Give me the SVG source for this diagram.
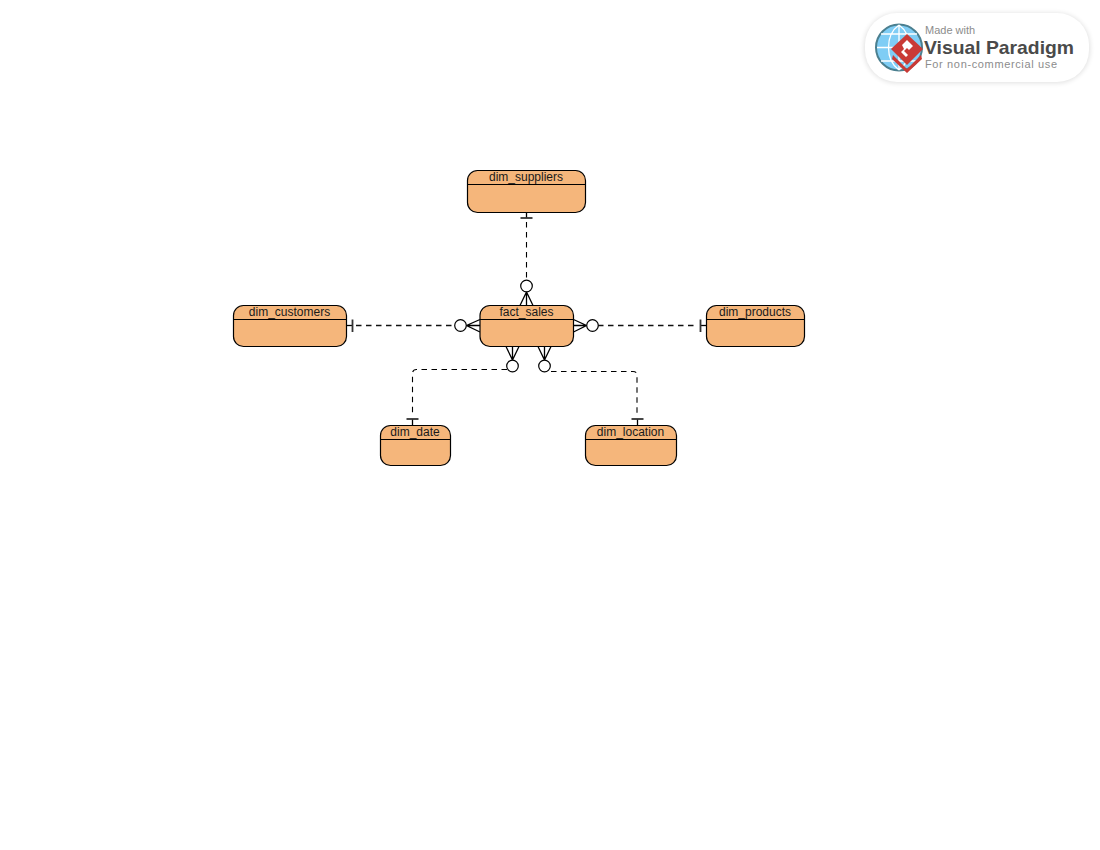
<svg xmlns="http://www.w3.org/2000/svg" width="1100" height="850" viewBox="0 0 1100 850">
<defs>
<style>
.box{fill:#f5b67b;stroke:#000;stroke-width:1.2}
.hd{stroke:#000;stroke-width:1.1;fill:none}
.lbl{font:12px "Liberation Sans",Arial,sans-serif;fill:#1a1a1a;text-anchor:middle}
.dash{fill:none;stroke:#000;stroke-width:1.1;stroke-dasharray:5.5 4.5}
.dashh{fill:none;stroke:#111;stroke-width:1.7;stroke-dasharray:5.5 4.5}
.solid{fill:none;stroke:#000;stroke-width:1.3}
.bar{fill:none;stroke:#333;stroke-width:1.8}
.circ{fill:#fff;stroke:#000;stroke-width:1.2}
</style>
<filter id="sh" x="-10%" y="-20%" width="120%" height="140%"><feGaussianBlur stdDeviation="2.500"/></filter>
</defs>
<rect width="1100" height="850" fill="#fff"/>
<g id="connectors">
<path class="dash" d="M526.500 222V280"/>
<path class="solid" d="M526.500 212.500V218"/>
<path class="bar" d="M520.500 218H532.500"/>
<path class="solid" d="M520 305.500L526.500 292L533 305.500M526.500 292V305.500"/>
<circle class="circ" cx="526.500" cy="286" r="5.800"/>
<path class="dashh" d="M356 325.500H455"/>
<path class="solid" d="M346.500 325.500H352"/>
<path class="bar" d="M352.500 319.500V332"/>
<path class="solid" d="M480 319.500L466.500 325.500L480 332M466.500 325.500H480"/>
<circle class="circ" cx="460.500" cy="325.500" r="5.800"/>
<path class="dashh" d="M598 325.500H697"/>
<path class="solid" d="M701 325.500H706.500"/>
<path class="bar" d="M700.500 319.500V332"/>
<path class="solid" d="M573.500 319.500L586.500 325.500L573.500 332M573.500 325.500H586.500"/>
<circle class="circ" cx="592.500" cy="325.500" r="5.800"/>
<path class="dash" d="M507 369.500H416.500Q412.500 369.500 412.500 373.500V415"/>
<path class="solid" d="M412.500 419V425.500"/>
<path class="bar" d="M406.500 419H418.500"/>
<path class="solid" d="M506 346.500L512.500 360L519 346.500M512.500 346.500V360"/>
<circle class="circ" cx="512.500" cy="366" r="5.800"/>
<path class="dash" d="M551 371.500H633Q637 371.500 637 375.500V415"/>
<path class="solid" d="M637.500 419V425.500"/>
<path class="bar" d="M631.500 419H643.500"/>
<path class="solid" d="M538 346.500L544.500 360L551 346.500M544.500 346.500V360"/>
<circle class="circ" cx="544.500" cy="366" r="5.800"/>
</g>
<g id="dim_suppliers">
<rect class="box" x="467.500" y="170.500" width="118" height="42" rx="10"/>
<path class="hd" d="M467.500 184.500H585.500"/>
<text class="lbl" x="526" y="181">dim_suppliers</text>
</g>
<g id="fact_sales">
<rect class="box" x="480" y="305.500" width="93.500" height="41" rx="10"/>
<path class="hd" d="M480 319.500H573.500"/>
<text class="lbl" x="526.500" y="316">fact_sales</text>
</g>
<g id="dim_customers">
<rect class="box" x="233.500" y="305.500" width="113" height="41" rx="10"/>
<path class="hd" d="M233.500 319.500H346.500"/>
<text class="lbl" x="289.500" y="316">dim_customers</text>
</g>
<g id="dim_products">
<rect class="box" x="706.500" y="305.500" width="98" height="41" rx="10"/>
<path class="hd" d="M706.500 319.500H804.500"/>
<text class="lbl" x="755" y="316">dim_products</text>
</g>
<g id="dim_date">
<rect class="box" x="380.500" y="425.500" width="70" height="40" rx="10"/>
<path class="hd" d="M380.500 439.500H450.500"/>
<text class="lbl" x="415" y="436">dim_date</text>
</g>
<g id="dim_location">
<rect class="box" x="585.500" y="425.500" width="91" height="40" rx="10"/>
<path class="hd" d="M585.500 439.500H676.500"/>
<text class="lbl" x="630.500" y="436">dim_location</text>
</g>
<g id="watermark">
<rect x="864" y="13" width="226" height="70" rx="33" fill="#000" opacity="0.12" filter="url(#sh)"/>
<rect x="865" y="13" width="224" height="69" rx="32" fill="#fff"/>
<circle cx="899" cy="47.500" r="23" fill="#7fcdf5" stroke="#4b7f8f" stroke-width="2"/>
<path d="M899 25V70M877 47.500H921M881 34H917M881 61H917M899 25C885 35 885 60 899 70M899 25C913 35 913 60 899 70" fill="none" stroke="#fff" stroke-width="1.300"/>
<path d="M893 55L907 69L921 55L922 59L907 73L892 59Z" fill="#c93a36"/>
<path d="M907 34L923 49L907 65L891 49Z" fill="#c93a36"/>
<path d="M902 45L907 40L913 46L909 50L907 48L904 51L908 55L906 57L901 52L904 49Z" fill="#fff"/>
<text x="925" y="34" font-family="'Liberation Sans',sans-serif" font-size="11" fill="#8c8c8c">Made with</text>
<text x="924" y="54" font-family="'Liberation Sans',sans-serif" font-size="19" font-weight="700" fill="#4a4a4a" textLength="150" lengthAdjust="spacingAndGlyphs">Visual Paradigm</text>
<text x="925" y="68" font-family="'Liberation Sans',sans-serif" font-size="11" fill="#8c8c8c" textLength="132">For non-commercial use</text>
</g>
</svg>
